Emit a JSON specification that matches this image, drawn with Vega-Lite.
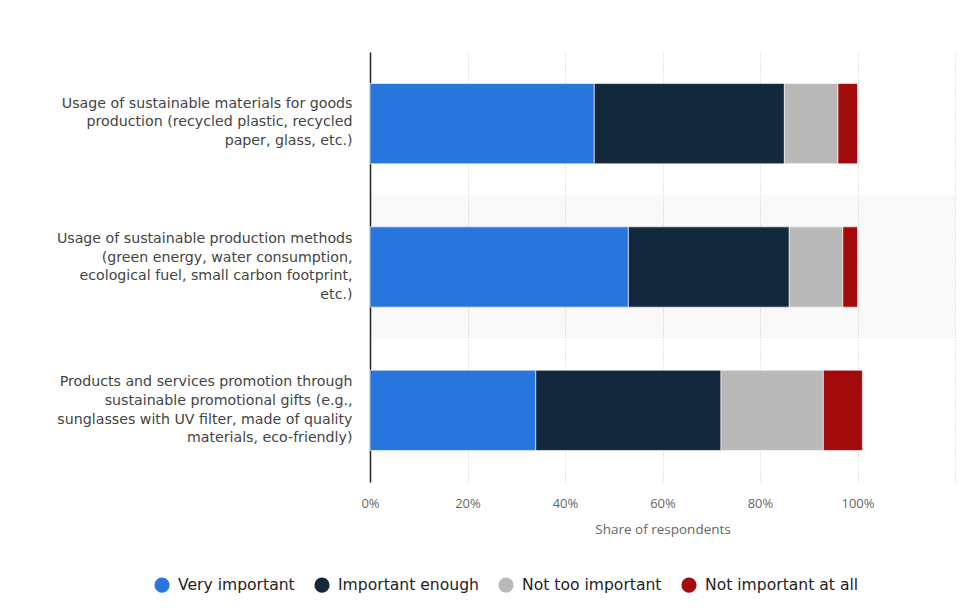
{
  "$schema": "https://vega.github.io/schema/vega-lite/v6.json",
  "width": 585,
  "height": 430,
  "autosize": {"type": "none"},
  "padding": {"left": 370, "top": 52, "right": 25, "bottom": 126},
  "background": "#ffffff",
  "config": {
    "view": {"stroke": null},
    "font": "Open Sans"
  },
  "datasets": {
    "main": [
      {"q": "Usage of sustainable materials for goods|production (recycled plastic, recycled|paper, glass, etc.)", "cat": "Very important", "k": 1, "v": 46},
      {"q": "Usage of sustainable materials for goods|production (recycled plastic, recycled|paper, glass, etc.)", "cat": "Important enough", "k": 2, "v": 39},
      {"q": "Usage of sustainable materials for goods|production (recycled plastic, recycled|paper, glass, etc.)", "cat": "Not too important", "k": 3, "v": 11},
      {"q": "Usage of sustainable materials for goods|production (recycled plastic, recycled|paper, glass, etc.)", "cat": "Not important at all", "k": 4, "v": 4},
      {"q": "Usage of sustainable production methods|(green energy, water consumption,|ecological fuel, small carbon footprint,|etc.)", "cat": "Very important", "k": 1, "v": 53},
      {"q": "Usage of sustainable production methods|(green energy, water consumption,|ecological fuel, small carbon footprint,|etc.)", "cat": "Important enough", "k": 2, "v": 33},
      {"q": "Usage of sustainable production methods|(green energy, water consumption,|ecological fuel, small carbon footprint,|etc.)", "cat": "Not too important", "k": 3, "v": 11},
      {"q": "Usage of sustainable production methods|(green energy, water consumption,|ecological fuel, small carbon footprint,|etc.)", "cat": "Not important at all", "k": 4, "v": 3},
      {"q": "Products and services promotion through|sustainable promotional gifts (e.g.,|sunglasses with UV filter, made of quality|materials, eco-friendly)", "cat": "Very important", "k": 1, "v": 34},
      {"q": "Products and services promotion through|sustainable promotional gifts (e.g.,|sunglasses with UV filter, made of quality|materials, eco-friendly)", "cat": "Important enough", "k": 2, "v": 38},
      {"q": "Products and services promotion through|sustainable promotional gifts (e.g.,|sunglasses with UV filter, made of quality|materials, eco-friendly)", "cat": "Not too important", "k": 3, "v": 21},
      {"q": "Products and services promotion through|sustainable promotional gifts (e.g.,|sunglasses with UV filter, made of quality|materials, eco-friendly)", "cat": "Not important at all", "k": 4, "v": 8}
    ],
    "stripe": [
      {"q": "Usage of sustainable production methods|(green energy, water consumption,|ecological fuel, small carbon footprint,|etc.)", "a": 0, "b": 120}
    ]
  },
  "layer": [
    {
      "data": {"name": "stripe"},
      "mark": {"type": "bar", "color": "#000000", "opacity": 0.025, "height": {"band": 1.79}},
      "encoding": {
        "y": {"field": "q", "type": "nominal"},
        "x": {"field": "a", "type": "quantitative"},
        "x2": {"field": "b"}
      }
    },
    {
      "data": {"name": "main"},
      "mark": {"type": "bar", "stroke": "#ffffff", "strokeWidth": 1, "strokeOpacity": 0.6},
      "encoding": {
        "y": {
          "field": "q",
          "type": "nominal",
          "sort": null,
          "scale": {
            "domain": [
              "Usage of sustainable materials for goods|production (recycled plastic, recycled|paper, glass, etc.)",
              "Usage of sustainable production methods|(green energy, water consumption,|ecological fuel, small carbon footprint,|etc.)",
              "Products and services promotion through|sustainable promotional gifts (e.g.,|sunglasses with UV filter, made of quality|materials, eco-friendly)"
            ],
            "paddingInner": 0.44,
            "paddingOuter": 0.22
          },
          "axis": {
            "title": null,
            "ticks": false,
            "grid": false,
            "domain": true,
            "domainColor": "#222222",
            "domainWidth": 1.5,
            "labelExpr": "split(datum.label, '|')",
            "labelFont": "DejaVu Sans",
            "labelFontSize": 14.2,
            "labelColor": "#444444",
            "labelLineHeight": 18.7,
            "labelPadding": 18,
            "labelLimit": 400,
            "labelAlign": "right",
            "labelBaseline": "middle",
            "labelOffset": {
              "condition": {"test": "indexof(datum.value, 'goods') >= 0", "value": -20},
              "value": -28
            }
          }
        },
        "x": {
          "field": "v",
          "type": "quantitative",
          "stack": "zero",
          "scale": {"domain": [0, 120], "nice": false},
          "axis": {
            "title": "Share of respondents",
            "titleFontSize": 13.5,
            "titleFontWeight": "normal",
            "titleColor": "#666666",
            "titlePadding": 12,
            "values": [0, 20, 40, 60, 80, 100, 120],
            "labelExpr": "datum.value > 100 ? '' : datum.value + '%'",
            "labelFlush": false,
            "labelFontSize": 13,
            "labelColor": "#666666",
            "labelPadding": 15,
            "domain": false,
            "ticks": false,
            "grid": true,
            "gridColor": "#cccccc",
            "gridDash": [1, 2],
            "gridWidth": 1
          }
        },
        "color": {
          "field": "cat",
          "type": "nominal",
          "scale": {
            "domain": ["Very important", "Important enough", "Not too important", "Not important at all"],
            "range": ["#2876dd", "#13273d", "#b9b9b9", "#a20a0b"]
          },
          "legend": {
            "title": null,
            "orient": "none",
            "direction": "horizontal",
            "legendX": -216,
            "legendY": 525,
            "symbolType": "circle",
            "symbolSize": 230,
            "symbolStrokeWidth": 0,
            "labelFontSize": 15.6,
            "labelFont": "DejaVu Sans",
            "labelColor": "#222222",
            "labelOffset": 8,
            "columnPadding": 19
          }
        },
        "order": {"field": "k", "type": "quantitative"}
      }
    }
  ]
}
